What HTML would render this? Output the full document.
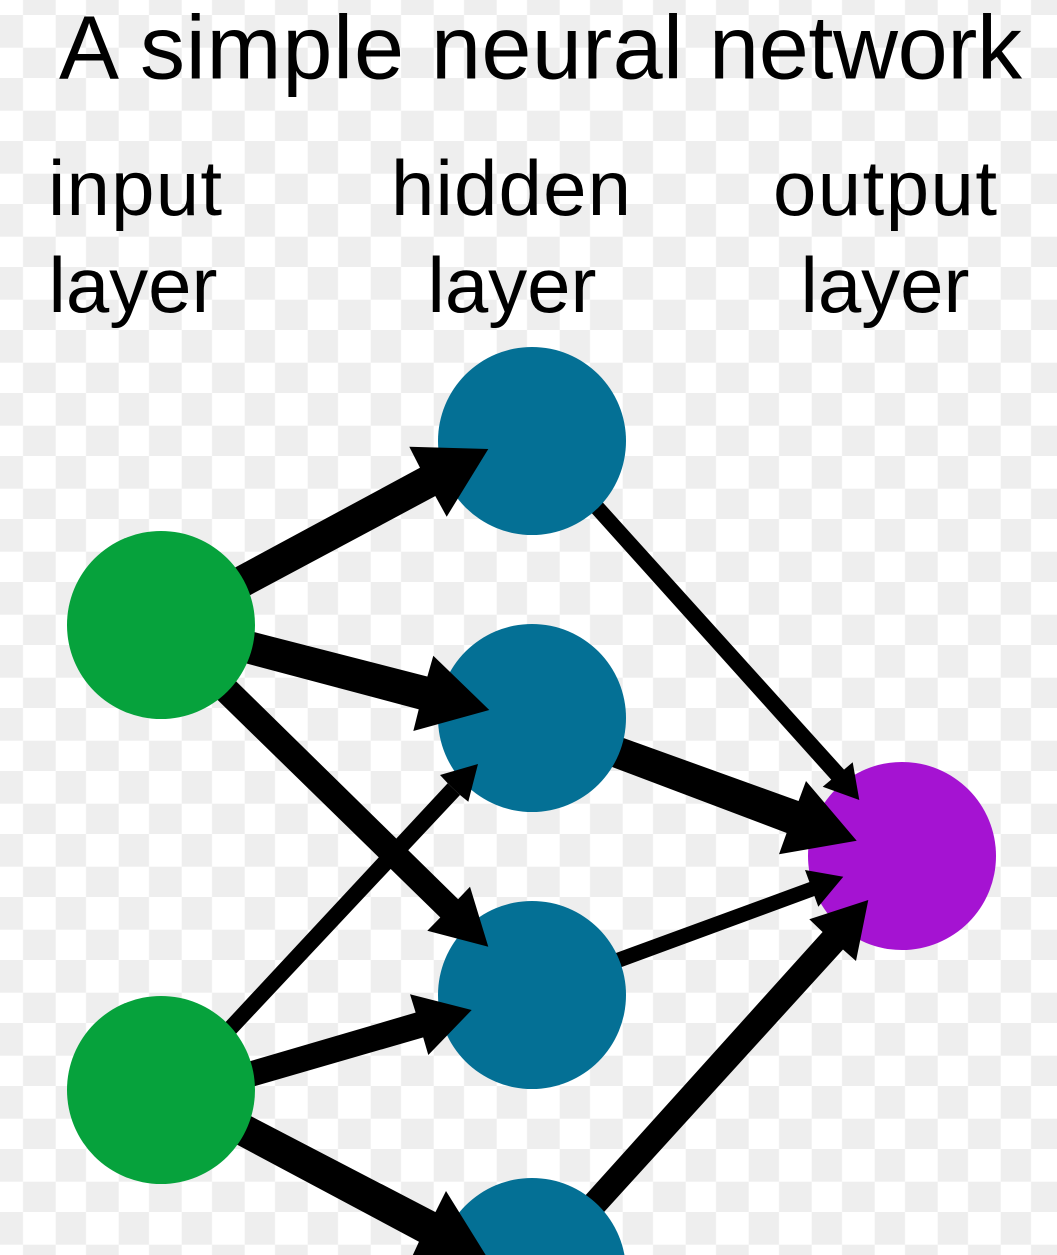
<!DOCTYPE html>
<html><head><meta charset="utf-8"><style>html,body{margin:0;padding:0;background:#fff;width:1057px;height:1255px;overflow:hidden}svg{display:block}text{font-family:"Liberation Sans",sans-serif;fill:#000}</style></head>
<body>
<svg width="1057" height="1255" viewBox="0 0 1057 1255" xmlns="http://www.w3.org/2000/svg">
<defs><pattern id="c" patternUnits="userSpaceOnUse" x="-7.3" y="15" width="63" height="63">
<rect x="0" y="0" width="30.3" height="32.7" fill="#eeeeee"/><rect x="30.3" y="32.7" width="32.7" height="30.3" fill="#eeeeee"/>
</pattern></defs>
<rect width="1057" height="1255" fill="#fff"/>
<rect width="1057" height="1255" fill="url(#c)"/>
<g font-size="90">
<text x="59" y="78.3">A</text>
<text x="140" y="78.3" textLength="264" lengthAdjust="spacing">simple</text>
<text x="431" y="78.3" textLength="252" lengthAdjust="spacing">neural</text>
<text x="709" y="78.3" textLength="313" lengthAdjust="spacing">network</text>
</g>
<g font-size="78">
<text x="48" y="215" textLength="174" lengthAdjust="spacing">input</text>
<text x="391" y="215" textLength="240" lengthAdjust="spacing">hidden</text>
<text x="773" y="215" textLength="224" lengthAdjust="spacing">output</text>
<text x="48.5" y="312" textLength="169" lengthAdjust="spacing">layer</text>
<text x="427.5" y="312" textLength="169" lengthAdjust="spacing">layer</text>
<text x="800.5" y="312" textLength="169" lengthAdjust="spacing">layer</text>
</g>
<g fill="#000">
<polygon points="199,587 213,615 441,493 425,465"/>
<polygon points="225,624.6 217,655.6 425,711 433,678"/>
<polygon points="208,653.7 189,672 446,923 463,904"/>
<polygon points="447.7,783.3 460,795 211.7,1059.7 201.7,1047.7"/>
<polygon points="220,1070 225,1094.7 428,1036 421,1011"/>
<polygon points="221.7,1101 208.3,1129.3 425,1245 441,1215"/>
<polygon points="578.3,475.3 568.3,487 836,785 848,774"/>
<polygon points="593,727 583,756 792,835 804,803"/>
<polygon points="586,964 592,978 820,894 815,880"/>
<polygon points="556,1228 574.3,1244.7 848,944 828,926"/>
</g>
<circle cx="161" cy="625" r="94" fill="#06a23c"/>
<circle cx="161" cy="1090" r="94" fill="#06a23c"/>
<circle cx="532" cy="441" r="94" fill="#047095"/>
<circle cx="532" cy="718" r="94" fill="#047095"/>
<circle cx="532" cy="995" r="94" fill="#047095"/>
<circle cx="532" cy="1272" r="94" fill="#047095"/>
<circle cx="902" cy="856" r="94" fill="#a513d2"/>
<g fill="#000">
<polygon points="409.3,446.7 488.3,449 446.7,516.7 435.7,496.7 420,467.7"/>
<polygon points="433.3,655.7 489.3,710 413.3,731 419,708.3 427.3,676.7"/>
<polygon points="470,886.7 488.3,946.7 427.3,930.7 440,917.7 458.3,899"/>
<polygon points="440,775 478,764 468.3,801.7 460,795 447.7,783.3"/>
<polygon points="410,994.3 471.7,1010 428.3,1055 423.3,1037.7 415.7,1012.7"/>
<polygon points="446,1191 495,1270 405,1272 419.3,1241 436,1211"/>
<polygon points="852.7,762.3 859.3,800 822.7,786.7 831.7,779.3 842.7,770.7"/>
<polygon points="806,781 856.7,840.7 779,854.3 786.7,832.7 798.3,801.7"/>
<polygon points="805,870 843.3,876.7 818.3,906.7 814.3,895.7 809.3,881.7"/>
<polygon points="809.3,919.3 868.3,900 856,961 842.7,949.3 822.3,931.7"/>
</g>
</svg>
</body></html>
